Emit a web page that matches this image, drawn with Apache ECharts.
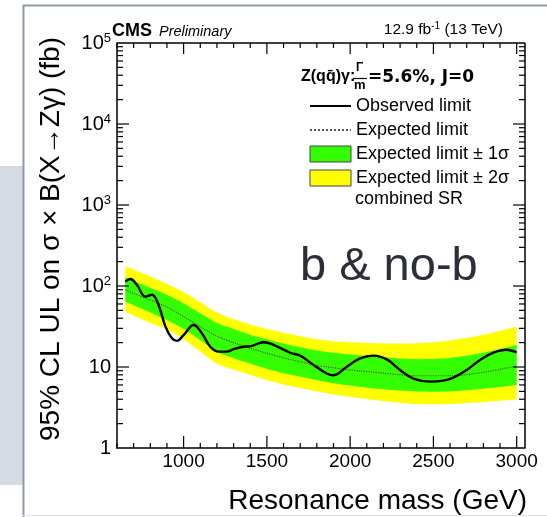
<!DOCTYPE html>
<html><head><meta charset="utf-8">
<script src="https://cdn.jsdelivr.net/npm/echarts@6/dist/echarts.min.js"></script>
<style>html,body{margin:0;padding:0;background:#fff}#c{width:547px;height:517px}</style>
</head><body><div id="c"></div>
<script>
// ---- data ----
const bandMass = [650,700,800,900,1000,1100,1200,1300,1400,1500,1600,1700,1800,1900,2000,2200,2400,2600,2800,3000];
const expected = [90,81,67,55,42,31.5,24,20,17,14.8,13,11.6,10.5,9.8,9.2,8.4,7.8,7.8,8.6,10.3];
const green1Up = [128,116,95,78,61,46,35,29.5,25,22,19.5,17.5,16,15,14.3,13.2,12.5,13,15,18.7];
const green1Lo = [64,58,47,38,29.5,21.5,15.5,12.8,11,9.5,8.4,7.6,6.9,6.3,5.9,5.3,5.0,5.0,5.4,6.0];
const yellow2Up = [175,160,131,106,84,63,47,39,33.5,29.5,26.5,24,22,20.8,20.2,19.6,19.6,21.3,25,31.5];
const yellow2Lo = [48,43,35,29,22,15.5,11,9.3,8,6.9,6.1,5.5,5,4.6,4.3,3.8,3.5,3.5,3.7,4.0];
const obsMass = [650,680,720,770,810,850,890,930,960,1000,1060,1110,1160,1210,1260,1300,1360,1400,1480,1540,1640,1700,1780,1860,1900,1980,2060,2140,2220,2300,2380,2480,2560,2620,2700,2780,2860,2940,3000];
const observed = [113,122,103,74,78,58,32,22.6,21,24.8,33,26,17.8,15.5,15.5,16.6,17.8,18,20.2,18.8,15,13.8,10.6,8.3,7.9,10.1,12.8,13.8,12.4,9.2,7.2,6.6,6.8,7.4,9.2,12.2,15,16.3,15.1];
const xRange = [600, 3050];
const yRange = [1, 100000];
const xMajorTicks = [1000,1500,2000,2500,3000];
const xMinorTicks = [600,700,800,900,1100,1200,1300,1400,1600,1700,1800,1900,2100,2200,2300,2400,2600,2700,2800,2900];
const yMajorTicks = [10,100,1000,10000];
const yMinorTicks = [2,3,4,5,6,7,8,9,20,30,40,50,60,70,80,90,200,300,400,500,600,700,800,900,2000,3000,4000,5000,6000,7000,8000,9000,20000,30000,40000,50000,60000,70000,80000,90000];
const legendNames = ['Observed limit','Expected limit','Expected limit \u00b1 1\u03c3','Expected limit \u00b1 2\u03c3'];
const xTitle = 'Resonance mass (GeV)';
const yTitle = '95% CL UL on \u03c3 \u00d7 B(X\u2192Z\u03b3) (fb)';

const F = '"Liberation Sans", Arial, Helvetica, sans-serif';
const pair = (xs, ys) => xs.map((x, i) => [x, ys[i]]);

// smooth (Catmull-Rom) screen-space outline of a band edge
function smoothPts(P) {
  const out = [P[0]];
  for (let i = 0; i < P.length - 1; i++) {
    const p0 = P[i - 1] || P[i], p1 = P[i], p2 = P[i + 1], p3 = P[i + 2] || P[i + 1];
    const c1 = [p1[0] + (p2[0] - p0[0]) / 6, p1[1] + (p2[1] - p0[1]) / 6];
    const c2 = [p2[0] - (p3[0] - p1[0]) / 6, p2[1] - (p3[1] - p1[1]) / 6];
    for (let k = 1; k <= 8; k++) {
      const t = k / 8, u = 1 - t;
      out.push([
        u*u*u*p1[0] + 3*u*u*t*c1[0] + 3*u*t*t*c2[0] + t*t*t*p2[0],
        u*u*u*p1[1] + 3*u*u*t*c1[1] + 3*u*t*t*c2[1] + t*t*t*p2[1]
      ]);
    }
  }
  return out;
}
function bandSeries(name, up, lo, color) {
  return {
    name: name, type:'custom', coordinateSystem:'cartesian2d',
    data:[[bandMass[0], up[0]]], silent:true, z:2,
    itemStyle:{color: color},
    renderItem: function (params, api) {
      const U = smoothPts(bandMass.map((m, i) => api.coord([m, up[i]])));
      const L = smoothPts(bandMass.map((m, i) => api.coord([m, lo[i]]))).reverse();
      return {type:'polygon', shape:{points: U.concat(L)}, style:{fill: color}};
    }
  };
}
// tick marks on all four sides and the top/right frame, placed through the axes' scales
function frameTickSeries() {
  return {
    name:'frame', type:'custom', coordinateSystem:'cartesian2d',
    data:[[xRange[0], yRange[0]]], silent:true, z:10,
    renderItem: function (params, api) {
      const ch = [];
      const seg = (ax, ay, bx, by, w) => ch.push({type:'line', shape:{x1:ax, y1:ay, x2:bx, y2:by},
        style:{stroke:'#000', lineWidth:w || 1.2}});
      const bl = api.coord([xRange[0], yRange[0]]), tr = api.coord([xRange[1], yRange[1]]);
      const x0 = bl[0], y0 = bl[1], x1 = tr[0], y1 = tr[1];
      xMajorTicks.forEach(v => { const x = api.coord([v, yRange[0]])[0]; seg(x, y0, x, y0 - 12); seg(x, y1, x, y1 + 11); });
      xMinorTicks.forEach(v => { const x = api.coord([v, yRange[0]])[0]; seg(x, y0, x, y0 - 5); seg(x, y1, x, y1 + 5); });
      yMajorTicks.forEach(v => { const y = api.coord([xRange[0], v])[1]; seg(x0, y, x0 + 12, y); seg(x1, y, x1 - 12, y); });
      yMinorTicks.forEach(v => { const y = api.coord([xRange[0], v])[1]; seg(x0, y, x0 + 6, y); seg(x1, y, x1 - 6, y); });
      seg(x0, y1, x1, y1, 1.5);
      seg(x1, y0, x1, y1, 1.5);
      return {type:'group', children: ch};
    }
  };
}
function yFmt(v) {
  const e = Math.round(Math.log10(v));
  if (e === 0) return '1';
  if (e === 1) return '10';
  return '10{s|' + e + '}';
}

const chart = echarts.init(document.getElementById('c'));
const option = {
  animation:false,
  grid:{left:117, right:22, top:43, bottom:69},
  xAxis:{type:'value', min:xRange[0], max:xRange[1],
    axisLine:{show:true, onZero:false, lineStyle:{color:'#000', width:1.5}},
    axisTick:{show:false},
    axisLabel:{show:true, fontSize:19, color:'#000', fontFamily:F, margin:4,
      formatter:(v) => (v >= 1000 && v % 500 === 0) ? String(v) : ''},
    splitLine:{show:false}},
  yAxis:{type:'log', logBase:10, min:yRange[0], max:yRange[1],
    axisLine:{show:true, onZero:false, lineStyle:{color:'#000', width:1.5}},
    axisTick:{show:false},
    axisLabel:{show:true, fontSize:20, color:'#000', fontFamily:F, margin:6, formatter:yFmt,
      rich:{s:{fontSize:13, color:'#000', padding:[0,0,10,0]}}},
    splitLine:{show:false}},
  legend:{
    show:true, orient:'vertical', left:304, top:92, itemWidth:41, itemHeight:16, itemGap:6,
    selectedMode:false,
    textStyle:{fontSize:18, fontFamily:F, color:'#000', lineHeight:16},
    data:[
      {name:legendNames[0], itemStyle:{opacity:0}},
      {name:legendNames[1], itemStyle:{opacity:0}},
      {name:legendNames[2], icon:'rect', itemStyle:{color:'#33ff00', borderColor:'#444', borderWidth:1}},
      {name:legendNames[3], icon:'rect', itemStyle:{color:'#ffff00', borderColor:'#444', borderWidth:1}}
    ]
  },
  series:[
    frameTickSeries(),
    bandSeries(legendNames[3], yellow2Up, yellow2Lo, '#ffff00'),
    bandSeries(legendNames[2], green1Up, green1Lo, '#33ff00'),
    {name:legendNames[0], type:'line', data:pair(obsMass, observed), smooth:0.4, symbol:'none',
      lineStyle:{width:2.4, color:'#000'}, itemStyle:{color:'#000'}, z:4},
    {name:legendNames[1], type:'line', data:pair(bandMass, expected), smooth:0.3, symbol:'none',
      lineStyle:{width:1.2, color:'#555', type:'dotted'}, itemStyle:{color:'#555'}, z:3}
  ],
  graphic:[
    {type:'rect', shape:{x:0, y:166, width:23, height:319}, style:{fill:'#d5dae3'}},
    {type:'line', shape:{x1:23.5, y1:5, x2:23.5, y2:517}, style:{stroke:'#8d99ab', lineWidth:2}},
    {type:'line', shape:{x1:23, y1:5.5, x2:547, y2:5.5}, style:{stroke:'#8d99ab', lineWidth:2}},
    {type:'line', shape:{x1:23, y1:515.5, x2:547, y2:515.5}, style:{stroke:'#e3e3ef', lineWidth:1}},
    {type:'text', x:527, y:501, style:{text:xTitle, font:'28px ' + F, fill:'#000', align:'right', verticalAlign:'middle'}},
    {type:'text', x:51, y:239, rotation:Math.PI / 2, style:{text:yTitle, font:'28px ' + F, fill:'#000', align:'center', verticalAlign:'middle'}},
    {type:'text', left:112, top:22, style:{text:'CMS', font:'bold 18px ' + F, fill:'#000'}},
    {type:'text', left:159, top:24, style:{text:'Preliminary', font:'italic 14.5px ' + F, fill:'#000'}},
    {type:'text', right:44, top:21, style:{text:'12.9 fb{s|-1} (13 TeV)', font:'15.5px ' + F, fill:'#000',
      rich:{s:{fontSize:10, fill:'#000', padding:[0,0,7,0]}}}},
    {type:'text', left:301, top:69, style:{text:'Z(qq\u0304)\u03b3:', font:'bold 16px ' + F, fill:'#000'}},
    {type:'text', left:356, top:62, style:{text:'\u0393', font:'bold 12px ' + F, fill:'#000'}},
    {type:'line', shape:{x1:353, y1:78.5, x2:367, y2:78.5}, style:{stroke:'#000', lineWidth:1.2}},
    {type:'text', left:354, top:79, style:{text:'m', font:'bold 13px ' + F, fill:'#000'}},
    {type:'text', left:368, top:69, style:{text:'=5.6%, J=0', font:'bold 17px "DejaVu Sans", sans-serif', fill:'#000'}},
    {type:'text', left:355, top:190, style:{text:'combined SR', font:'18px ' + F, fill:'#000'}},
    {type:'text', left:300, top:244, style:{text:'b & no-b', font:'47px ' + F, fill:'#2e2e3a'}}
  ]
};
chart.setOption(option);
</script></body></html>
